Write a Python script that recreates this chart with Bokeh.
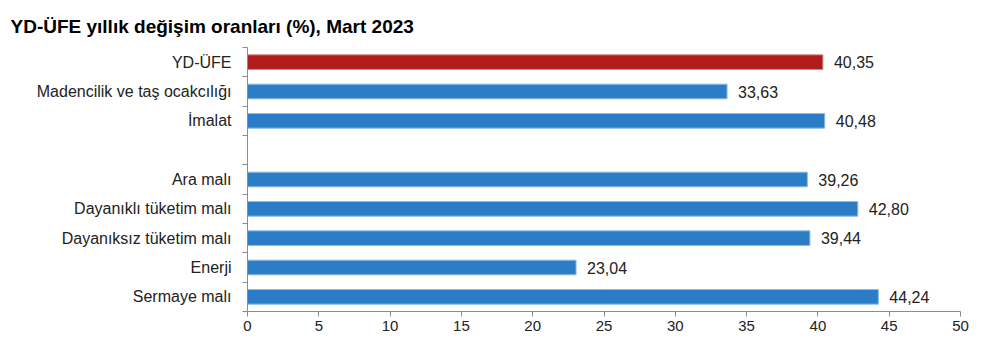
from bokeh.plotting import figure
from bokeh.models import FixedTicker, Range1d, ColumnDataSource, LabelSet, Title
from bokeh.core.properties import value
from bokeh.embed import file_html
from bokeh.resources import INLINE

categories = ["YD-ÜFE", "Madencilik ve taş ocakcılığı", "İmalat", "",
              "Ara malı", "Dayanıklı tüketim malı", "Dayanıksız tüketim malı",
              "Enerji", "Sermaye malı"]
values = [40.35, 33.63, 40.48, None, 39.26, 42.80, 39.44, 23.04, 44.24]
value_labels = ["40,35", "33,63", "40,48", "", "39,26", "42,80", "39,44", "23,04", "44,24"]
x_ticks = [0, 5, 10, 15, 20, 25, 30, 35, 40, 45, 50]

n = len(categories)
ypos = [n - 1 - i for i in range(n)]
idx = [i for i, v in enumerate(values) if v is not None]
colors = ["#B01C1C" if categories[i] == "YD-ÜFE" else "#2A7DC6" for i in idx]
lines = ["#D88A8A" if categories[i] == "YD-ÜFE" else "#8DBDE6" for i in idx]

src = ColumnDataSource(dict(
    y=[ypos[i] for i in idx],
    v=[values[i] for i in idx],
    lab=[value_labels[i] for i in idx],
    c=colors, lc=lines,
))

FONT = "Liberation Sans"

p = figure(width=984, height=345, output_backend="svg", toolbar_location=None,
           x_range=Range1d(0, 50), y_range=Range1d(-0.5, n - 0.5),
           min_border_left=247, min_border_right=24, min_border_top=47,
           min_border_bottom=34)
p.outline_line_color = None
p.xgrid.visible = False
p.ygrid.visible = False
p.background_fill_color = "white"

t = Title(text="YD-ÜFE yıllık değişim oranları (%), Mart 2023", align="left",
          offset=-237, text_font=FONT, text_font_size="19px",
          text_font_style="bold", text_color="#000000", standoff=18,
          vertical_align="top")
p.add_layout(t, "above")

p.hbar(y="y", right="v", left=0, height=0.5, source=src,
       fill_color="c", line_color="lc", line_width=1)

p.add_layout(LabelSet(x="v", y="y", text="lab", source=src, x_offset=11,
                      text_baseline="middle", text_font_size=value("16px"),
                      text_font=value(FONT), text_color=value("#222222")))

# x axis
p.xaxis.ticker = FixedTicker(ticks=x_ticks)
p.xaxis.axis_line_color = "#8C8C8C"
p.xaxis.major_tick_line_color = "#8C8C8C"
p.xaxis.major_tick_in = 0
p.xaxis.major_tick_out = 5
p.xaxis.minor_tick_line_color = None
p.xaxis.major_label_text_font = FONT
p.xaxis.major_label_text_font_size = "15px"
p.xaxis.major_label_text_color = "#222222"
p.xaxis.major_label_standoff = 4

# y axis
p.yaxis.ticker = FixedTicker(ticks=ypos, minor_ticks=[k - 0.5 for k in range(n + 1)])
p.yaxis.major_label_overrides = {ypos[i]: categories[i] for i in range(n)}
p.yaxis.axis_line_color = "#8C8C8C"
p.yaxis.major_tick_line_color = None
p.yaxis.major_tick_in = 0
p.yaxis.major_tick_out = 0
p.yaxis.minor_tick_line_color = "#8C8C8C"
p.yaxis.minor_tick_in = 0
p.yaxis.minor_tick_out = 5
p.yaxis.major_label_text_font = FONT
p.yaxis.major_label_text_font_size = "16px"
p.yaxis.major_label_text_color = "#222222"
p.yaxis.major_label_standoff = 11

open("out.html", "w").write(file_html(p, INLINE))
